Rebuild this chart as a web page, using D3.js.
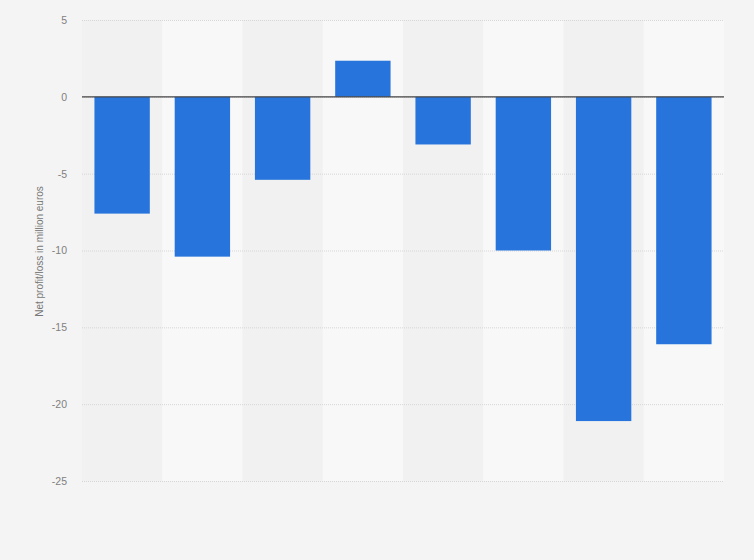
<!DOCTYPE html>
<html>
<head>
<meta charset="utf-8">
<script src="https://cdn.jsdelivr.net/npm/d3@7"></script>
<style>
  body { margin: 0; background: #f4f4f4; font-family: "Liberation Sans", Arial, sans-serif; }
  .tick text { fill: #808080; font-size: 10.5px; font-family: "Liberation Sans", Arial, sans-serif; }
</style>
</head>
<body>
<svg id="chart" width="754" height="560"></svg>
<script>
// categories carry no printed labels in the source chart
const categories = ["c1", "c2", "c3", "c4", "c5", "c6", "c7", "c8"];
const values = [-7.6, -10.4, -5.4, 2.35, -3.1, -10.0, -21.1, -16.1];
const yTicks = [5, 0, -5, -10, -15, -20, -25];
const yTitle = "Net profit/loss in million euros";

const svg = d3.select("#chart");
const margin = { left: 82, right: 30, top: 20, bottom: 79 };
const W = 754, H = 560;

const x = d3.scaleBand()
  .domain(categories)
  .range([margin.left, W - margin.right])
  .paddingInner(0.31)
  .paddingOuter(0.155);

const bands = d3.scaleBand()
  .domain(categories)
  .range([margin.left, W - margin.right]);

const y = d3.scaleLinear()
  .domain([-25, 5])
  .range([H - margin.bottom, margin.top]);

// alternating column shading
svg.append("g")
  .selectAll("rect")
  .data(categories)
  .enter().append("rect")
  .attr("x", d => bands(d))
  .attr("width", bands.bandwidth())
  .attr("y", y(5))
  .attr("height", y(-25) - y(5))
  .attr("fill", (d, i) => i % 2 ? "#f8f8f8" : "#f1f1f1");

// grid + tick labels
let yAxis = svg.append("g")
  .attr("transform", "translate(" + margin.left + ",0)")
  .call(d3.axisLeft(y)
    .tickValues(yTicks)
    .tickFormat(d => String(d))
    .tickSize(-(W - margin.left - margin.right))
    .tickPadding(15));
yAxis.select(".domain").remove();
yAxis.selectAll(".tick line")
  .attr("stroke", "#d6d6d6")
  .attr("stroke-dasharray", "1,1");

svg.append("text")
  .attr("transform", "translate(43," + ((y(5) + y(-25)) / 2 + 1) + ") rotate(-90)")
  .attr("text-anchor", "middle")
  .attr("fill", "#777")
  .style("font-size", "10px")
  .text(yTitle);

svg.append("g")
  .selectAll("rect")
  .data(values)
  .enter().append("rect")
  .attr("x", (d, i) => x(categories[i]))
  .attr("width", x.bandwidth())
  .attr("y", d => y(Math.max(0, d)))
  .attr("height", d => Math.abs(y(d) - y(0)))
  .attr("fill", "#2775dc");

// zero line
svg.append("line")
  .attr("x1", margin.left)
  .attr("x2", W - margin.right)
  .attr("y1", y(0))
  .attr("y2", y(0))
  .attr("stroke", "#444")
  .attr("stroke-width", 1.3);
</script>
</body>
</html>
